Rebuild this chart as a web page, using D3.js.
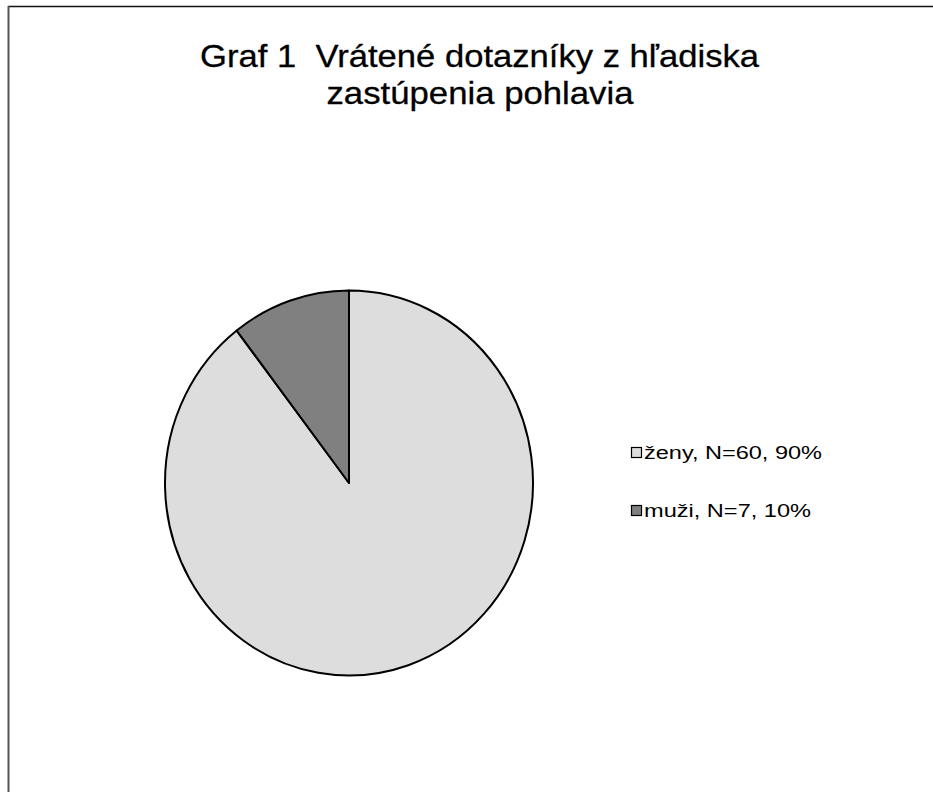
<!DOCTYPE html>
<html>
<head>
<meta charset="utf-8">
<script src="https://cdn.jsdelivr.net/npm/d3@7"></script>
<style>
  body { margin: 0; background: #fff; }
  svg { display: block; font-family: "Liberation Sans", Arial, sans-serif; }
</style>
</head>
<body>
<svg></svg>
<script>
let categories = ["ženy", "muži"]
let counts = [60, 7]
let percents = [90, 10]
let colors = ["#dddddd", "#808080"]
let titleLines = ["Graf 1  Vrátené dotazníky z hľadiska", "zastúpenia pohlavia"]

let width = 933
let height = 792
let radius = 184
let stretchY = 1.046
let cx = 349
let cy = 483

let svg = d3.select("svg")
  .attr("width", width)
  .attr("height", height)

// chart frame, only top and left edges fall inside the window
svg.append("line")
   .attr("x1", 8).attr("y1", 6.5).attr("x2", width).attr("y2", 6.5)
   .attr("stroke", "#111").attr("stroke-width", 1.5)
svg.append("line")
   .attr("x1", 8.5).attr("y1", 6).attr("x2", 8.5).attr("y2", height)
   .attr("stroke", "#555").attr("stroke-width", 2)

// title, widths matched to the picture
let titleWidths = [559, 307]
svg.selectAll("text.title")
   .data(titleLines)
   .enter()
   .append("text")
   .attr("class", "title")
   .attr("x", (d, i) => i == 0 ? 200 : 326.5)
   .attr("y", (d, i) => 67 + i * 37)
   .attr("font-size", 32)
   .attr("fill", "#000")
   .attr("stroke", "#000")
   .attr("stroke-width", 0.3)
   .attr("xml:space", "preserve")
   .style("white-space", "pre")
   .attr("textLength", (d, i) => titleWidths[i])
   .attr("lengthAdjust", "spacingAndGlyphs")
   .text(d => d)

let pie = d3.pie().sort(null).value(d => d)
let arc = d3.arc().innerRadius(0).outerRadius(radius)

svg.append("g")
   .attr("transform", "translate(" + cx + "," + cy + ") scale(1," + stretchY + ")")
   .selectAll("path")
   .data(pie(counts))
   .enter()
   .append("path")
   .attr("d", arc)
   .attr("fill", (d, i) => colors[i])
   .attr("stroke", "#000")
   .attr("stroke-width", 2)
   .attr("stroke-linejoin", "round")
   .attr("vector-effect", "non-scaling-stroke")

let legend = svg.append("g")
   .attr("transform", "translate(631, 447)")

let rows = legend.selectAll("g")
   .data(categories)
   .enter()
   .append("g")
   .attr("transform", (d, i) => "translate(0," + i * 58 + ")")

rows.append("rect")
   .attr("x", 0.5)
   .attr("y", 0.5)
   .attr("width", 10)
   .attr("height", 10)
   .attr("fill", (d, i) => colors[i])
   .attr("stroke", "#000")
   .attr("stroke-width", 1.2)

let legendWidths = [178, 167]
rows.append("text")
   .attr("x", 13)
   .attr("y", 12)
   .attr("font-size", 18)
   .attr("fill", "#000")
   .attr("textLength", (d, i) => legendWidths[i])
   .attr("lengthAdjust", "spacingAndGlyphs")
   .text((d, i) => d + ", N=" + counts[i] + ", " + percents[i] + "%")
</script>
</body>
</html>
